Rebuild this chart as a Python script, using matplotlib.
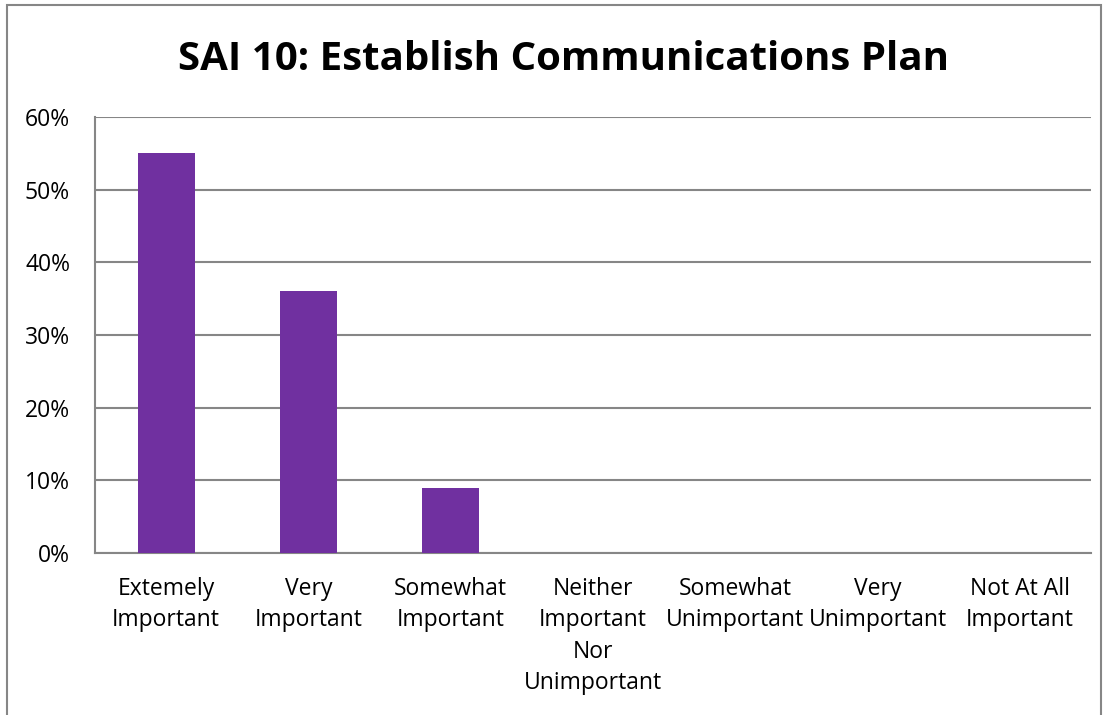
import matplotlib
matplotlib.use("Agg")
import matplotlib.pyplot as plt
from matplotlib.patches import Rectangle
from matplotlib.ticker import FuncFormatter

categories = ["Extemely\nImportant", "Very\nImportant", "Somewhat\nImportant",
              "Neither\nImportant\nNor\nUnimportant", "Somewhat\nUnimportant",
              "Very\nUnimportant", "Not At All\nImportant"]
values = [55, 36, 9, 0, 0, 0, 0]
yticks = [0, 10, 20, 30, 40, 50, 60]
title = "SAI 10: Establish Communications Plan"

plt.rcParams['font.family'] = ['Open Sans', 'DejaVu Sans']

W, H = 1111, 715
fig = plt.figure(figsize=(W / 100, H / 100), dpi=100)
fig.patch.set_facecolor("white")

# outer chart border (left/top visible)
fig.add_artist(Rectangle((7 / W, -0.05), (1101 - 7) / W, 1 - 5 / H + 0.05,
                         transform=fig.transFigure, fill=False,
                         edgecolor="#868686", linewidth=1.5))

left, right, top, bottom = 95, 1091, 117, 553
ax = fig.add_axes([left / W, 1 - bottom / H, (right - left) / W, (bottom - top) / H])

x = list(range(len(categories)))
ax.bar(x, values, width=0.4, color="#7030A0", zorder=3)
ax.set_xlim(-0.5, len(categories) - 0.5)
ax.set_ylim(0, 60)
ax.set_yticks(yticks)
ax.yaxis.set_major_formatter(FuncFormatter(lambda v, p: f"{int(v)}%"))
ax.set_xticks(x)
ax.set_xticklabels(categories, fontsize=16.5, linespacing=1.42, va="top")
ax.tick_params(axis="x", length=0, pad=17)
ax.tick_params(axis="y", length=0, pad=18, labelsize=16.5)
ax.grid(axis="y", color="#868686", linewidth=1.5, zorder=0)
for s in ["top", "right"]:
    ax.spines[s].set_visible(False)
for s in ["left", "bottom"]:
    ax.spines[s].set_color("#868686")
    ax.spines[s].set_linewidth(1.5)

fig.text(563 / W, 1 - 59 / H, title, ha="center", va="center",
         fontsize=29, fontweight="bold")

fig.savefig("out.png", dpi=100, facecolor="white")
